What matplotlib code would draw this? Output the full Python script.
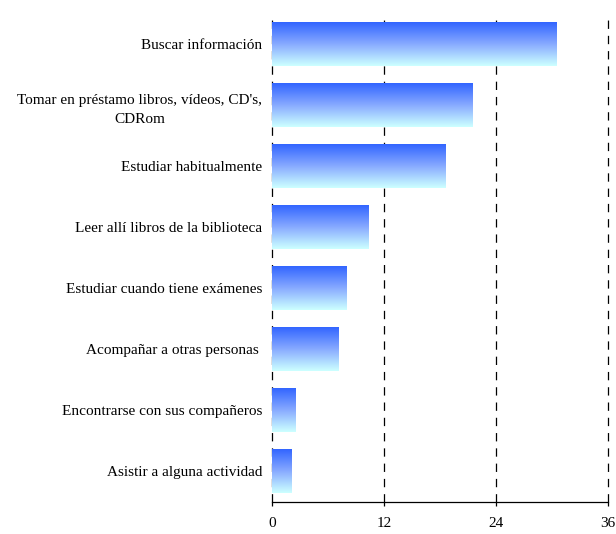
import matplotlib
matplotlib.use('Agg')
import matplotlib.pyplot as plt
from matplotlib.colors import LinearSegmentedColormap
import numpy as np

plt.rcParams['font.family'] = ['Liberation Serif', 'DejaVu Serif']
plt.rcParams['lines.scale_dashes'] = False

categorias = ['Buscar información',
              "Tomar en préstamo libros, vídeos, CD's,\nCDRom",
              'Estudiar habitualmente',
              'Leer allí libros de la biblioteca',
              'Estudiar cuando tiene exámenes',
              'Acompañar a otras personas ',
              'Encontrarse con sus compañeros',
              'Asistir a alguna actividad']
valores = [30.5, 21.5, 18.6, 10.3, 8.0, 7.1, 2.5, 2.1]
ticks_x = [0, 12, 24, 36]

fig = plt.figure(figsize=(6.16, 5.34), dpi=100)
ax = fig.add_axes([0.4416, 0.060, 0.5455, 0.914])

# degradado azul -> celeste
cmap = LinearSegmentedColormap.from_list('grad', ['#3366ff', '#88aaff', '#ccffff'])
grad = np.linspace(0, 1, 64).reshape(-1, 1)

n = len(categorias)
alto = 0.72
for i, v in enumerate(valores):
    y = n - 1 - i
    ax.imshow(grad, cmap=cmap, aspect='auto', interpolation='bilinear',
              extent=(0, v, y - alto / 2, y + alto / 2), origin='upper', zorder=2)

for t in ticks_x:
    ax.axvline(t, color='black', lw=0.9, dashes=(6, 5), zorder=1, clip_on=False)

ax.set_xlim(0, 36)
ax.set_ylim(-0.5, n - 0.5)
ax.set_xticks(ticks_x)
ax.set_yticks(range(n))
ax.set_yticklabels(categorias[::-1], multialignment='center', linespacing=1.6)
ax.tick_params(axis='y', length=0, pad=7, labelsize=11)
ax.tick_params(axis='x', direction='out', length=3, width=0.9, labelsize=11, pad=8)
for s in ['left', 'right', 'top']:
    ax.spines[s].set_visible(False)
ax.spines['bottom'].set_linewidth(0.9)

fig.savefig('out.png', dpi=100)
